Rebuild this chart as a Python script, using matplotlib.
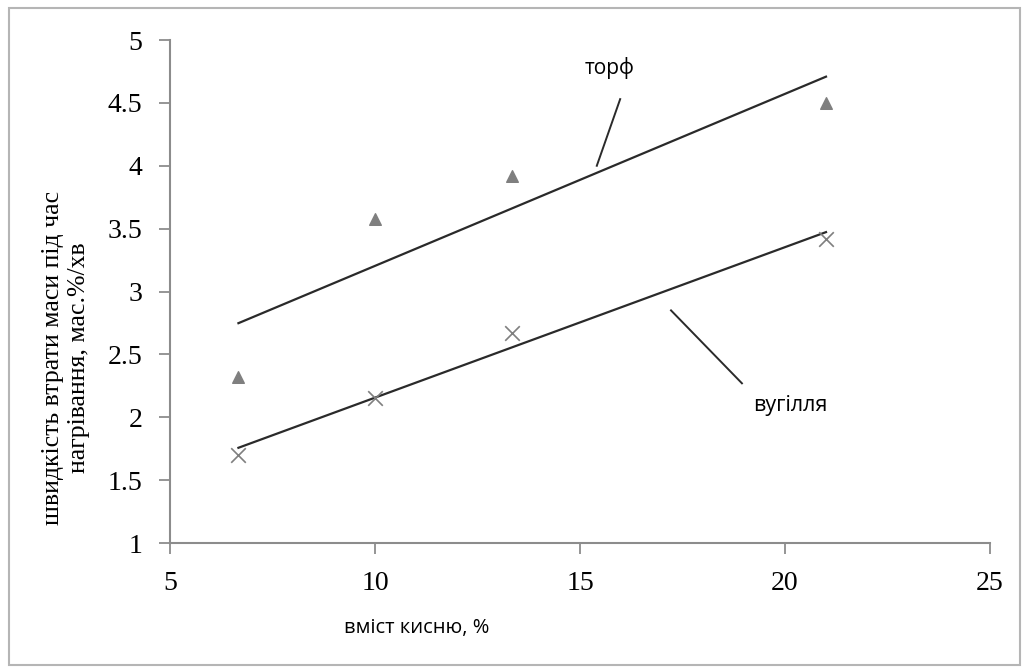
import numpy as np
import matplotlib.pyplot as plt
from matplotlib.patches import Rectangle

# oxygen content, % and mass loss rate for each fuel
oxygen = [6.67, 10.0, 13.33, 21.0]
peat = [2.32, 3.58, 3.92, 4.50]
coal = [1.70, 2.15, 2.67, 3.42]

x_ticks = [5, 10, 15, 20, 25]
y_ticks = [1, 1.5, 2, 2.5, 3, 3.5, 4, 4.5, 5]

fig = plt.figure(figsize=(10.22, 6.68), dpi=100)
ax = fig.add_axes([0.1663, 0.1871, 0.8024, 0.7530])

# frame around the whole chart
fig.patches.append(Rectangle((0.009, 0.005), 0.989, 0.983, transform=fig.transFigure,
                             fill=False, edgecolor="#b5b5b5", linewidth=1.5))

grey = "#7f7f7f"
ink = "#2a2a2a"
ax.scatter(oxygen, peat, marker="^", s=70, color=grey, zorder=3)
ax.scatter(oxygen, coal, marker="x", s=110, color=grey, linewidths=1.2, zorder=3)

# linear trend lines
xs = np.array([oxygen[0], oxygen[-1]])
for ys in (peat, coal):
    k, b = np.polyfit(oxygen, ys, 1)
    ax.plot(xs, k * xs + b, color=ink, linewidth=1.6, zorder=2)

ax.set_xlim(5, 25)
ax.set_ylim(1, 5)
ax.set_xticks(x_ticks)
ax.set_yticks(y_ticks)
ax.set_xticklabels([str(v) for v in x_ticks])
ax.set_yticklabels([f"{v:g}" for v in y_ticks])

for side in ("top", "right"):
    ax.spines[side].set_visible(False)
for side in ("left", "bottom"):
    ax.spines[side].set_color("#8c8c8c")
    ax.spines[side].set_linewidth(1.5)
ax.tick_params(direction="out", length=8, width=1.3, color="#8c8c8c",
               labelsize=20, pad=12)
for lab in ax.get_xticklabels() + ax.get_yticklabels():
    lab.set_fontfamily("Liberation Serif")

fig.text(66 / 1022, 1 - 358 / 668,
         "швидкість втрати маси під час\nнагрівання, мас.%/хв",
         fontfamily="Liberation Serif", fontsize=18.5, rotation=90,
         ha="center", va="center", linespacing=1.25, multialignment="center")
fig.text(417 / 1022, 1 - 628 / 668, "вміст кисню, %",
         fontfamily="Open Sans", fontsize=14.5, ha="center", va="center")

# series names with leader lines
ax.plot([15.98, 15.41], [4.53, 4.0], color=ink, lw=1.4)
ax.text(15.73, 4.78, "торф", fontfamily="Open Sans", fontsize=15,
        ha="center", va="center")
ax.plot([17.22, 18.95], [2.85, 2.27], color=ink, lw=1.4)
ax.text(20.12, 2.09, "вугілля", fontfamily="Open Sans", fontsize=15.5,
        ha="center", va="center")

fig.savefig("out.png", dpi=100)
